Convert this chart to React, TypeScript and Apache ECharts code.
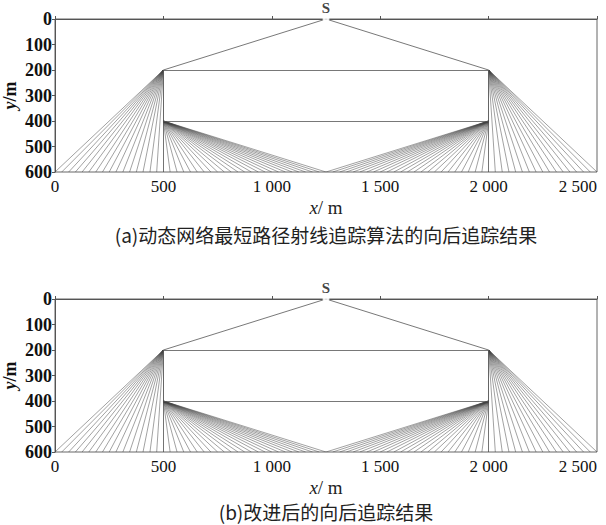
import React, { useEffect, useRef } from "react";
import * as echarts from "echarts";

// ---- data ----
const xTickValues = [0, 500, 1000, 1500, 2000, 2500];
const xTickLabels = ["0", "500", "1 000", "1 500", "2 000", "2 500"];
const yTickValues = [0, 100, 200, 300, 400, 500, 600];
const sourcePoint = [1250, 0];
const sourceLabel = "S";
// model outline: source rays to interface corners and the two interfaces
const modelSegments = [
  [[1250, 0], [500, 200]],
  [[1250, 0], [2000, 200]],
  [[500, 200], [2000, 200]],
  [[500, 400], [2000, 400]],
  [[500, 200], [500, 400]],
  [[2000, 200], [2000, 400]],
];
// secondary source nodes and the receivers (on y = 600) reached from them
const nodeUpperLeft = [500, 200];
const receiversLeft = [0, 31, 63, 94, 125, 156, 188, 219, 250, 281, 313, 344, 375, 406, 438, 469, 500];
const nodeLowerLeft = [500, 400];
const receiversMidLeft = [500, 531, 563, 594, 625, 656, 688, 719, 750, 781, 813, 844, 875, 906, 938, 969, 1000, 1031, 1063, 1094, 1125, 1156, 1188, 1219, 1250];
const nodeLowerRight = [2000, 400];
const receiversMidRight = [1250, 1281, 1313, 1344, 1375, 1406, 1438, 1469, 1500, 1531, 1563, 1594, 1625, 1656, 1688, 1719, 1750, 1781, 1813, 1844, 1875, 1906, 1938, 1969, 2000];
const nodeUpperRight = [2000, 200];
const receiversRight = [2000, 2031, 2063, 2094, 2125, 2156, 2188, 2219, 2250, 2281, 2313, 2344, 2375, 2406, 2438, 2469, 2500];
const receiverDepth = 600;
const captions = [
  "(a)动态网络最短路径射线追踪算法的向后追踪结果",
  "(b)改进后的向后追踪结果",
];

const SERIF = "Liberation Serif";
const CJK = "Noto Sans CJK SC";

function buildRays() {
  const segs: number[][][] = [];
  const fans: [number[], number[]][] = [
    [nodeUpperLeft, receiversLeft],
    [nodeLowerLeft, receiversMidLeft],
    [nodeLowerRight, receiversMidRight],
    [nodeUpperRight, receiversRight],
  ];
  fans.forEach(([node, recs]) => {
    recs.forEach((x) => segs.push([node, [x, receiverDepth]]));
  });
  return segs;
}

export default function App() {
  const ref = useRef<HTMLDivElement>(null);
  useEffect(() => {
    document.body.style.margin = "0";
    const chart = echarts.init(ref.current!, null, { renderer: "svg" });
    const rays = buildRays();
    const tops = [19, 299];
    const grids = tops.map((t) => ({
      left: 55,
      top: t,
      width: 542,
      height: 153,
      containLabel: false,
      outerBoundsMode: "none",
      show: true,
      borderColor: "#666",
      borderWidth: 1,
      backgroundColor: "transparent",
    }));
    const xAxes = tops.map((_, i) => ({
      type: "value",
      gridIndex: i,
      min: 0,
      max: 2500,
      interval: 500,
      position: "bottom",
      axisLine: { show: true, lineStyle: { color: "#555", width: 1 } },
      axisTick: { show: true, inside: true, length: 3, lineStyle: { color: "#555" } },
      splitLine: { show: false },
      axisLabel: {
        margin: 6,
        fontSize: 17,
        fontFamily: SERIF,
        color: "#111",
        alignMaxLabel: "right",
        formatter: (v: number) => {
          const k = xTickValues.indexOf(v);
          return k >= 0 ? "{t|" + xTickLabels[k] + "}" : "";
        },
        rich: { t: { fontFamily: SERIF, fontSize: 17, color: "#111" } },
      },
      name: "{i|x}{n|/ m}",
      nameLocation: "middle",
      nameGap: 26,
      nameMoveOverlap: false,
      nameTextStyle: {
        fontFamily: SERIF,
        rich: {
          i: { fontFamily: SERIF, fontStyle: "italic", fontSize: 19, color: "#222" },
          n: { fontFamily: SERIF, fontSize: 19, color: "#222" },
        },
      },
    }));
    const yAxes = tops.map((_, i) => ({
      type: "value",
      gridIndex: i,
      min: 0,
      max: 600,
      interval: 100,
      inverse: true,
      axisLine: { show: true, lineStyle: { color: "#555", width: 1 } },
      axisTick: { show: true, length: 3, lineStyle: { color: "#555" } },
      splitLine: { show: false },
      axisLabel: {
        margin: 3,
        fontSize: 18,
        fontWeight: "bold",
        fontFamily: SERIF,
        color: "#111",
        formatter: (v: number) => (yTickValues.indexOf(v) >= 0 ? "{t|" + v + "}" : ""),
        rich: { t: { fontFamily: SERIF, fontWeight: "bold", fontSize: 18, color: "#111" } },
      },
      name: "{i|y}{n|/m}",
      nameLocation: "middle",
      nameRotate: 90,
      nameGap: 36,
      nameMoveOverlap: false,
      nameTextStyle: {
        fontFamily: SERIF,
        rich: {
          i: { fontFamily: SERIF, fontStyle: "italic", fontWeight: "bold", fontSize: 18, color: "#111" },
          n: { fontFamily: SERIF, fontWeight: "bold", fontSize: 18, color: "#111" },
        },
      },
    }));
    const series: any[] = [];
    tops.forEach((_, i) => {
      series.push({
        type: "lines",
        coordinateSystem: "cartesian2d",
        xAxisIndex: i,
        yAxisIndex: i,
        silent: true,
        lineStyle: { color: "#444", width: 0.5, opacity: 1 },
        data: rays.map((s) => ({ coords: s })),
      });
      series.push({
        type: "lines",
        coordinateSystem: "cartesian2d",
        xAxisIndex: i,
        yAxisIndex: i,
        silent: true,
        lineStyle: { color: "#555", width: 0.8, opacity: 1 },
        data: modelSegments.map((s) => ({ coords: s })),
      });
      series.push({
        type: "scatter",
        xAxisIndex: i,
        yAxisIndex: i,
        symbol: "emptyCircle",
        symbolSize: 5,
        itemStyle: { color: "#fff", borderColor: "#333", borderWidth: 0.8 },
        label: {
          show: true,
          position: "top",
          distance: 0,
          formatter: sourceLabel,
          fontFamily: SERIF,
          fontWeight: "bold",
          fontSize: 15,
          color: "#111",
        },
        data: [sourcePoint],
      });
    });
    chart.setOption({
      animation: false,
      backgroundColor: "#fff",
      textStyle: { fontFamily: SERIF },
      grid: grids,
      xAxis: xAxes,
      yAxis: yAxes,
      series,
      graphic: [
        {
          type: "text",
          x: 326,
          y: 234,
          style: { text: captions[0], fontFamily: CJK, fontSize: 19, fill: "#222", align: "center", verticalAlign: "middle" },
        },
        {
          type: "text",
          x: 326,
          y: 511,
          style: { text: captions[1], fontFamily: CJK, fontSize: 19, fill: "#222", align: "center", verticalAlign: "middle" },
        },
      ],
    });
    return () => chart.dispose();
  }, []);
  return <div ref={ref} style={{ width: 606, height: 525 }} />;
}
